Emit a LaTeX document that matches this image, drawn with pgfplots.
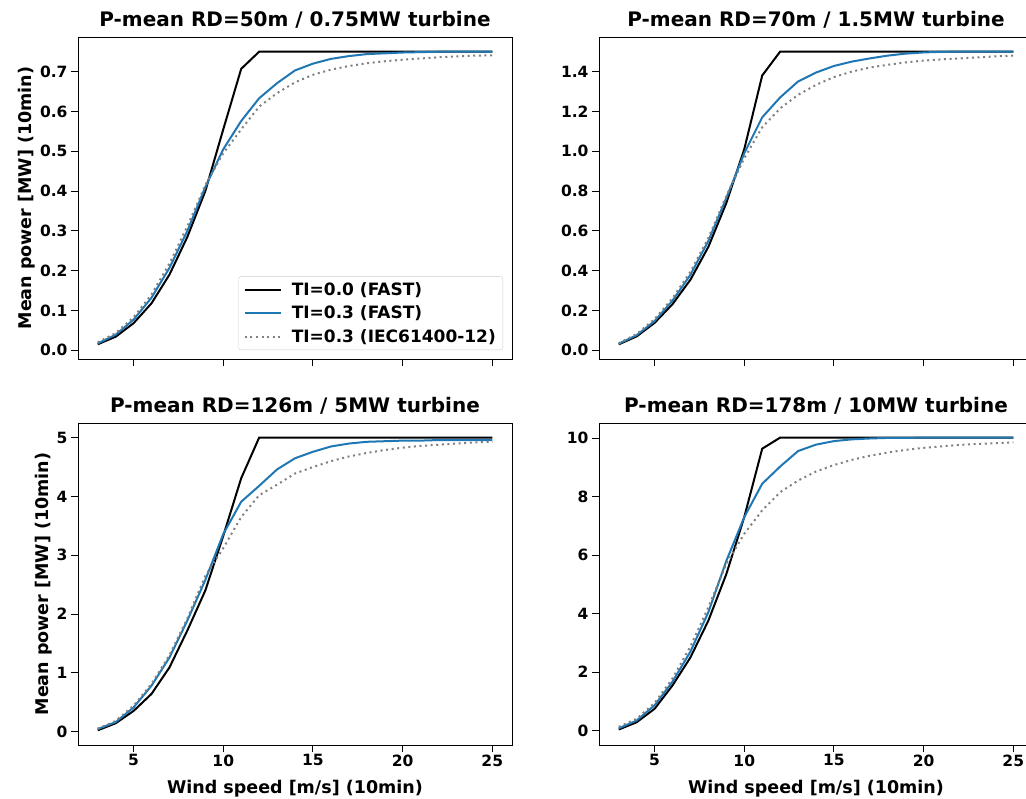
\documentclass[border=0pt]{standalone}
\usepackage{pgfplots}
\pgfplotsset{compat=1.18}
\usepackage{fontspec}
\setmainfont{DejaVu Sans}

% power curves, x = wind speed, blk = TI 0.0 FAST, blu = TI 0.3 FAST, iec = TI 0.3 IEC
\pgfplotstableread{
x  blk    blu    iec
3  0.015  0.017  0.020
4  0.034  0.039  0.043
5  0.068  0.077  0.083
6  0.118  0.132  0.140
7  0.190  0.207  0.218
8  0.285  0.300  0.312
9  0.400  0.410  0.415
10 0.555  0.505  0.495
11 0.707  0.576  0.555
12 0.750  0.633  0.612
13 0.750  0.671  0.646
14 0.750  0.703  0.673
15 0.750  0.720  0.692
16 0.750  0.732  0.705
17 0.750  0.739  0.714
18 0.750  0.744  0.721
19 0.750  0.746  0.726
20 0.750  0.748  0.730
21 0.750  0.749  0.733
22 0.750  0.750  0.736
23 0.750  0.750  0.738
24 0.750  0.750  0.740
25 0.750  0.750  0.741
}\tA
\pgfplotstableread{
x  blk    blu    iec
3  0.030  0.033  0.036
4  0.070  0.076  0.082
5  0.138  0.147  0.157
6  0.232  0.250  0.262
7  0.355  0.380  0.395
8  0.520  0.550  0.565
9  0.740  0.765  0.775
10 1.010  0.990  0.965
11 1.380  1.170  1.120
12 1.500  1.270  1.215
13 1.500  1.350  1.283
14 1.500  1.395  1.333
15 1.500  1.428  1.372
16 1.500  1.450  1.400
17 1.500  1.466  1.420
18 1.500  1.480  1.434
19 1.500  1.490  1.446
20 1.500  1.496  1.455
21 1.500  1.499  1.461
22 1.500  1.500  1.466
23 1.500  1.500  1.471
24 1.500  1.500  1.476
25 1.500  1.500  1.480
}\tB
\pgfplotstableread{
x  blk   blu   iec
3  0.02  0.04  0.05
4  0.14  0.16  0.18
5  0.35  0.41  0.44
6  0.64  0.78  0.81
7  1.09  1.26  1.30
8  1.72  1.89  1.93
9  2.40  2.58  2.65
10 3.33  3.36  3.12
11 4.31  3.91  3.65
12 5.00  4.18  4.02
13 5.00  4.46  4.20
14 5.00  4.65  4.39
15 5.00  4.76  4.50
16 5.00  4.85  4.60
17 5.00  4.90  4.68
18 5.00  4.93  4.74
19 5.00  4.94  4.79
20 5.00  4.95  4.83
21 5.00  4.95  4.86
22 5.00  4.96  4.88
23 5.00  4.96  4.90
24 5.00  4.96  4.92
25 5.00  4.96  4.93
}\tC
\pgfplotstableread{
x  blk    blu    iec
3  0.03   0.07   0.12
4  0.28   0.34   0.40
5  0.74   0.86   0.94
6  1.54   1.67   1.78
7  2.50   2.70   2.88
8  3.76   4.05   4.22
9  5.35   5.80   5.70
10 7.30   7.30   6.73
11 9.64   8.44   7.53
12 10.02  9.03   8.15
13 10.02  9.56   8.55
14 10.02  9.78   8.86
15 10.02  9.90   9.08
16 10.02  9.96   9.26
17 10.02  9.99   9.40
18 10.02  10.01  9.51
19 10.02  10.01  9.60
20 10.02  10.02  9.67
21 10.02  10.02  9.72
22 10.02  10.02  9.77
23 10.02  10.02  9.80
24 10.02  10.02  9.83
25 10.02  10.02  9.86
}\tD

\definecolor{mplblue}{RGB}{31,119,180}
\definecolor{iecgray}{RGB}{128,128,128}

\pgfplotsset{
  panel/.style={
    scale only axis, width=434pt, height=322pt,
    anchor=north west,
    xmin=1.9, xmax=26.1,
    xtick={5,10,15,20,25},
    xtick pos=bottom, ytick pos=left,
    tick align=outside,
    major tick length=7pt,
    tick style={black, line width=0.9pt},
    axis line style={line width=0.9pt},
    /pgf/number format/assume math mode=true,
    ticklabel style={font=\bfseries\fontsize{15.5}{18}\selectfont},
    xticklabel style={yshift=1pt},
    title style={font=\bfseries\fontsize{20}{24}\selectfont, yshift=-1pt},
    label style={font=\bfseries\fontsize{17.5}{20}\selectfont},
    ylabel style={yshift=-2pt},
    xlabel style={yshift=-7pt},
  },
  blk/.style={black, line width=2pt},
  blu/.style={mplblue, line width=2pt},
  iec/.style={iecgray, line width=2pt, dash pattern=on 2pt off 3.6pt},
}

\begin{document}
\begin{tikzpicture}
\useasboundingbox (0pt,0pt) rectangle (1026pt,-799pt);

\begin{axis}[panel, at={(78pt,-37pt)},
  title={P-mean RD=50m / 0.75MW turbine},
  xticklabels={},
  ymin=-0.022, ymax=0.787,
  ytick={0,0.1,...,0.7},
  yticklabel style={/pgf/number format/.cd, fixed, fixed zerofill, precision=1},
  ylabel={Mean power [MW] (10min)},
  legend style={at={(1,0)}, anchor=south east, xshift=-9pt, yshift=9pt,
    draw=black!20, rounded corners=2pt, fill=white,
    font=\bfseries\fontsize{17}{19}\selectfont,
    inner xsep=5pt, inner ysep=4pt, row sep=5pt,
    /tikz/column 1/.style={column sep=8pt}},
  legend cell align=left,
  legend image code/.code={\draw[#1] (0pt,0pt) -- (36pt,0pt);},
]
\addplot[blk] table[x=x, y=blk] {\tA};
\addlegendentry{TI=0.0 (FAST)}
\addplot[blu] table[x=x, y=blu] {\tA};
\addlegendentry{TI=0.3 (FAST)}
\addplot[iec] table[x=x, y=iec] {\tA};
\addlegendentry{TI=0.3 (IEC61400-12)}
\end{axis}

\begin{axis}[panel, at={(599pt,-37pt)},
  title={P-mean RD=70m / 1.5MW turbine},
  xticklabels={},
  ymin=-0.0435, ymax=1.5735,
  ytick={0,0.2,...,1.4},
  yticklabel style={/pgf/number format/.cd, fixed, fixed zerofill, precision=1},
]
\addplot[blk] table[x=x, y=blk] {\tB};
\addplot[blu] table[x=x, y=blu] {\tB};
\addplot[iec] table[x=x, y=iec] {\tB};
\end{axis}

\begin{axis}[panel, at={(78pt,-423pt)},
  title={P-mean RD=126m / 5MW turbine},
  ymin=-0.23, ymax=5.25,
  ytick={0,1,...,5},
  ylabel={Mean power [MW] (10min)},
  xlabel={Wind speed [m/s] (10min)},
]
\addplot[blk] table[x=x, y=blk] {\tC};
\addplot[blu] table[x=x, y=blu] {\tC};
\addplot[iec] table[x=x, y=iec] {\tC};
\end{axis}

\begin{axis}[panel, at={(599pt,-423pt)},
  title={P-mean RD=178m / 10MW turbine},
  ymin=-0.5, ymax=10.52,
  ytick={0,2,...,10},
  xlabel={Wind speed [m/s] (10min)},
]
\addplot[blk] table[x=x, y=blk] {\tD};
\addplot[blu] table[x=x, y=blu] {\tD};
\addplot[iec] table[x=x, y=iec] {\tD};
\end{axis}
\end{tikzpicture}
\end{document}
